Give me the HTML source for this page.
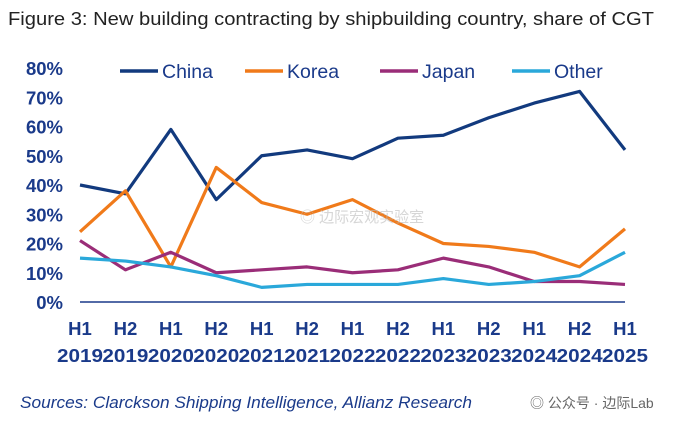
<!DOCTYPE html>
<html><head><meta charset="utf-8"><style>
body{margin:0;background:#fff;width:700px;height:434px;overflow:hidden;font-family:"Liberation Sans","Noto Sans CJK SC",sans-serif}
</style></head><body>
<svg width="700" height="434">
<text x="8" y="25" font-size="18" fill="#222" textLength="646" lengthAdjust="spacingAndGlyphs">Figure 3: New building contracting by shipbuilding country, share of CGT</text>
<g id="plot"></g>
<text x="20" y="408" font-size="16.5" font-style="italic" fill="#1a3a8a" textLength="452" lengthAdjust="spacingAndGlyphs">Sources: Clarckson Shipping Intelligence, Allianz Research</text>
<text x="530" y="408" font-size="14" fill="#666">◎ 公众号 · 边际Lab</text>
<text x="300" y="222" font-size="15" fill="#bbb" opacity="0.6">◎ 边际宏观实验室</text>
</svg>
<script>
const categories=["H1 2019","H2 2019","H1 2020","H2 2020","H1 2021","H2 2021","H1 2022","H2 2022","H1 2023","H2 2023","H1 2024","H2 2024","H1 2025"];
const china=[40,37,59,35,50,52,49,56,57,63,68,72,52];
const korea=[24,38,12,46,34,30,35,27,20,19,17,12,25];
const japan=[21,11,17,10,11,12,10,11,15,12,7,7,6];
const other=[15,14,12,9,5,6,6,6,8,6,7,9,17];
const yTicks=[0,10,20,30,40,50,60,70,80];
const seriesNames=["China","Korea","Japan","Other"];
const colors=["#123a7e","#f07a1a","#9a2d78","#2aa8da"];
const NS="http://www.w3.org/2000/svg";
const g=document.getElementById('plot');
const x0=80,x1=625,yb=302,yt=68;
const xs=i=>x0+(x1-x0)*i/(categories.length-1);
const ys=v=>yb-(yb-yt)*v/80;
function el(t,a){const e=document.createElementNS(NS,t);for(const k in a)e.setAttribute(k,a[k]);g.appendChild(e);return e;}
yTicks.forEach(v=>{const t=el('text',{x:63,y:ys(v)+7,'text-anchor':'end','font-size':18.5,'font-weight':'bold',fill:'#1a3a8a'});t.textContent=v+'%';

});
const ax=el('line',{x1:x0,x2:x1,y1:yb,y2:yb,stroke:'#1a3a8a','stroke-width':1.5});


categories.forEach((c,i)=>{const p=c.split(' ');
const a=el('text',{x:xs(i),y:335,'text-anchor':'middle','font-size':18.5,'font-weight':'bold',fill:'#1a3a8a'});a.textContent=p[0];


const b=el('text',{x:xs(i),y:362,'text-anchor':'middle','font-size':18.5,'font-weight':'bold',fill:'#1a3a8a',textLength:46,lengthAdjust:'spacingAndGlyphs'});b.textContent=p[1];

});
[china,korea,japan,other].forEach((d,s)=>{
const pl=el('polyline',{points:d.map((v,i)=>xs(i)+','+ys(v)).join(' '),fill:'none',stroke:colors[s],'stroke-width':3.2,'stroke-linejoin':'round'});

});
const lx=[120,245,380,512];
seriesNames.forEach((n,s)=>{
const l=el('line',{x1:lx[s],x2:lx[s]+38,y1:71,y2:71,stroke:colors[s],'stroke-width':3.5});


const t=el('text',{x:lx[s]+42,y:78,'font-size':19.5,fill:'#1a3a8a'});t.textContent=n;

});
</script>
</body></html>
